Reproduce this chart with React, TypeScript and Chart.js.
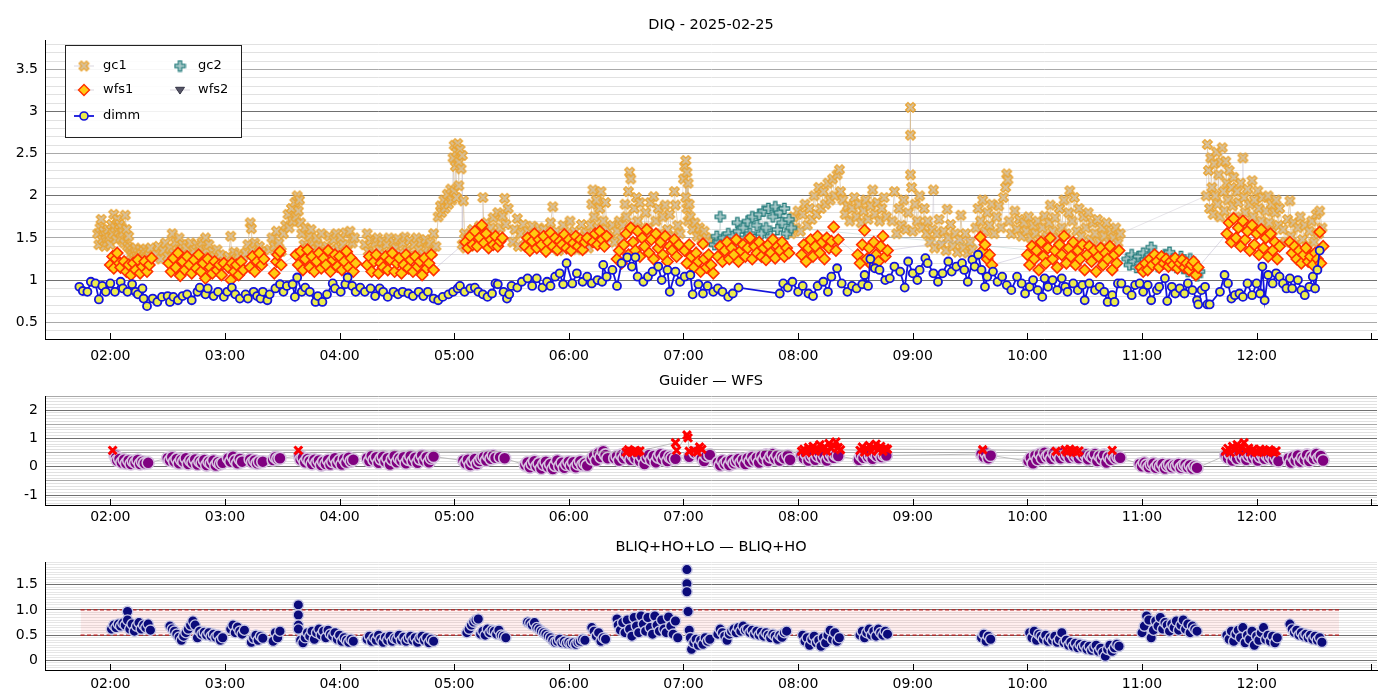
import React, { useEffect, useRef } from 'react';
import { Chart, registerables } from 'chart.js';

Chart.register(...registerables);

type P = [number, number];

// ---------- texts ----------
const titleDIQ = 'DIQ - 2025-02-25';
const titleGuider = 'Guider — WFS';
const titleBliq = 'BLIQ+HO+LO — BLIQ+HO';
const legendNames = ['gc1', 'wfs1', 'dimm', 'gc2', 'wfs2'];

// ---------- axes ----------
const hourTicks = [2, 3, 4, 5, 6, 7, 8, 9, 10, 11, 12, 13];
const xMin = 1.43;
const xMax = 13.05;

// ---------- bottom reference band ----------
const bandLow = 0.5;
const bandHigh = 1.0;
const bandStart = 1.74;
const bandEnd = 12.72;

// ---------- DIQ panel (time in hours UT, value in arcsec) ----------
const gc1: P[] = [
  [1.89,1.55],[1.90,1.42],[1.91,1.62],[1.92,1.72],[1.93,1.48],[1.94,1.58],[1.95,1.40],[1.96,1.53],[1.97,1.45],[1.98,1.60],[1.99,1.50],[2.00,1.42],[2.01,1.66],[2.02,1.55],[2.03,1.78],[2.04,1.62],[2.05,1.48],[2.06,1.72],[2.07,1.58],[2.08,1.66],[2.09,1.50],[2.10,1.62],[2.11,1.56],[2.12,1.44],[2.13,1.77],[2.14,1.60],[2.15,1.40],[2.16,1.52],
  [2.17,1.38],[2.18,1.30],[2.19,1.35],[2.20,1.27],[2.21,1.33],[2.22,1.38],[2.23,1.28],[2.24,1.32],[2.25,1.26],[2.26,1.36],[2.27,1.30],[2.28,1.24],[2.29,1.34],[2.30,1.29],[2.31,1.37],[2.32,1.27],[2.33,1.33],[2.34,1.29],[2.35,1.38],
  [2.40,1.30],[2.42,1.40],[2.44,1.25],[2.46,1.35],[2.48,1.44],[2.50,1.28],[2.52,1.38],[2.54,1.55],[2.55,1.32],[2.57,1.45],[2.58,1.26],[2.60,1.50],[2.61,1.36],[2.63,1.42],[2.64,1.24],[2.66,1.38],[2.68,1.30],[2.70,1.44],[2.71,1.22],[2.73,1.35],[2.75,1.42],[2.76,1.27],[2.78,1.38],[2.80,1.45],[2.81,1.30],[2.83,1.50],[2.84,1.36],[2.86,1.42],[2.87,1.24],[2.89,1.34],[2.91,1.28],[2.93,1.36],[2.94,1.22],[2.96,1.30],[2.97,1.20],
  [3.03,1.28],[3.05,1.52],[3.06,1.22],[3.08,1.33],[3.10,1.25],[3.12,1.30],[3.14,1.20],[3.16,1.28],
  [3.18,1.32],[3.20,1.42],[3.22,1.68],[3.23,1.61],[3.24,1.36],[3.26,1.44],[3.28,1.30],[3.30,1.40],[3.32,1.34],
  [3.39,1.36],[3.41,1.50],[3.43,1.40],[3.45,1.58],[3.47,1.44],[3.49,1.34],[3.51,1.55],
  [3.53,1.65],[3.55,1.78],[3.56,1.62],[3.58,1.85],[3.59,1.70],[3.61,1.92],[3.62,1.75],[3.63,2.00],[3.64,1.82],[3.65,1.95],[3.66,1.68],
  [3.67,1.55],[3.69,1.42],[3.70,1.62],[3.72,1.38],[3.74,1.52],[3.75,1.60],[3.77,1.45],[3.79,1.36],[3.80,1.50],[3.82,1.40],[3.84,1.55],[3.85,1.34],
  [3.89,1.40],[3.91,1.52],[3.93,1.36],[3.95,1.48],[3.97,1.55],[3.99,1.38],[4.01,1.50],[4.03,1.42],[4.05,1.56],[4.07,1.36],[4.09,1.58],[4.11,1.44],[4.13,1.50],
  [4.22,1.42],[4.24,1.55],[4.25,1.34],[4.27,1.47],[4.29,1.31],[4.31,1.44],[4.33,1.50],[4.35,1.36],[4.37,1.46],[4.39,1.30],[4.41,1.42],[4.43,1.50],[4.45,1.33],[4.47,1.45],[4.49,1.38],[4.51,1.49],[4.53,1.32],[4.55,1.44],[4.57,1.51],[4.59,1.35],[4.61,1.47],[4.63,1.30],[4.65,1.42],[4.67,1.50],[4.69,1.36],[4.71,1.45],[4.73,1.31],[4.75,1.48],[4.77,1.38],[4.79,1.44],[4.81,1.33],[4.82,1.55],[4.84,1.40],
  [4.86,1.75],[4.88,1.88],[4.89,1.80],[4.91,1.95],[4.92,1.85],[4.94,2.02],[4.95,1.90],[4.97,2.08],[4.98,1.95],[5.00,2.05],[5.02,1.98],[5.04,2.12],
  [4.99,2.45],[5.00,2.60],[5.01,2.35],[5.02,2.52],[5.03,2.62],[5.04,2.40],[5.05,2.55],[5.06,2.32],[5.07,2.48],[5.08,1.94],
  [5.07,1.42],[5.09,1.55],[5.10,1.38],[5.12,1.50],[5.14,1.44],[5.16,1.60],[5.18,1.40],[5.20,1.55],[5.22,1.64],[5.24,1.46],[5.25,1.98],[5.26,1.58],[5.28,1.68],[5.30,1.50],[5.32,1.62],[5.34,1.74],[5.36,1.55],[5.38,1.80],[5.40,1.62],[5.42,1.76],[5.44,1.97],[5.45,1.66],[5.47,1.85],
  [5.51,1.45],[5.53,1.60],[5.55,1.73],[5.56,1.40],[5.58,1.55],[5.60,1.66],[5.62,1.42],[5.64,1.58],[5.66,1.48],[5.68,1.64],[5.70,1.40],[5.72,1.55],[5.74,1.62],
  [5.76,1.45],[5.78,1.60],[5.80,1.38],[5.82,1.52],[5.84,1.68],[5.86,1.87],[5.87,1.42],[5.89,1.58],[5.91,1.35],[5.93,1.50],[5.95,1.65],[5.97,1.40],[5.99,1.55],[6.01,1.70],[6.03,1.44],[6.05,1.58],[6.07,1.36],[6.09,1.52],[6.11,1.66],[6.13,1.42],[6.15,1.56],[6.17,1.38],
  [6.19,1.65],[6.20,1.90],[6.21,2.07],[6.22,1.75],[6.24,1.95],[6.25,1.62],[6.27,1.85],[6.28,2.05],[6.30,1.70],[6.32,1.92],[6.33,1.60],
  [6.36,1.50],[6.38,1.65],[6.40,1.45],[6.42,1.58],[6.44,1.70],[6.46,1.48],
  [6.47,1.65],[6.49,1.90],[6.50,1.75],[6.52,2.05],[6.53,2.28],[6.54,2.20],[6.55,1.62],[6.57,1.85],[6.59,1.98],[6.60,1.70],[6.62,1.92],[6.64,1.60],
  [6.65,1.55],[6.67,1.80],[6.69,1.62],[6.71,1.92],[6.73,1.52],[6.74,1.99],[6.76,1.70],[6.78,1.85],[6.80,1.55],[6.82,1.75],[6.84,1.89],[6.86,1.60],[6.88,1.78],[6.90,1.52],[6.92,2.05],[6.93,1.89],[6.95,1.65],[6.97,1.55],
  [7.00,2.20],[7.01,2.35],[7.02,2.42],[7.03,2.28],[7.04,2.15],[7.02,1.98],[7.03,1.85],[7.04,1.70],[7.05,1.90],
  [7.06,1.75],[7.08,1.60],[7.10,1.68],[7.12,1.52],[7.14,1.62],[7.16,1.48],[7.18,1.58],[7.20,1.50],[7.22,1.45],
  [7.94,1.55],[7.96,1.75],[7.98,1.62],[8.00,1.82],[8.02,1.58],[8.04,1.78],[8.06,1.90],[8.08,1.65],[8.10,1.85],[8.12,1.72],[8.14,2.00],[8.16,1.78],[8.18,2.10],[8.20,1.85],[8.22,2.05],[8.24,1.90],[8.26,2.15],[8.28,1.95],[8.30,2.20],[8.32,2.00],[8.34,2.25],[8.36,2.31],[8.37,2.05],
  [8.39,1.95],[8.41,1.78],[8.43,1.88],[8.45,1.70],[8.47,1.85],[8.49,1.98],[8.51,1.75],[8.53,1.90],[8.55,1.68],[8.57,1.82],[8.59,1.95],[8.61,1.72],[8.63,1.88],[8.65,2.07],[8.67,1.78],[8.69,1.92],[8.71,1.70],[8.73,1.85],[8.75,1.98],[8.77,1.75],
  [8.82,1.70],[8.84,2.05],[8.86,1.55],[8.88,1.85],[8.90,1.65],[8.92,1.95],[8.94,1.60],[8.96,1.80],[8.98,3.05],[8.98,2.72],[8.98,2.25],[8.99,2.10],[9.00,1.58],[9.02,1.90],[9.04,1.70],[9.06,2.00],[9.08,1.62],[9.10,1.85],[9.12,1.55],
  [9.13,1.70],[9.15,1.45],[9.17,1.60],[9.18,2.07],[9.19,1.38],[9.21,1.55],[9.23,1.72],[9.25,1.42],[9.27,1.58],[9.29,1.35],[9.30,1.84],[9.31,1.50],[9.33,1.66],[9.35,1.40],[9.37,1.55],[9.39,1.33],[9.41,1.48],[9.42,1.77],[9.44,1.38],[9.46,1.55],[9.48,1.32],[9.50,1.45],[9.52,1.36],
  [9.55,1.62],[9.57,1.85],[9.59,1.70],[9.61,1.95],[9.63,1.58],[9.65,1.80],[9.67,1.65],[9.69,1.90],[9.71,1.55],[9.73,1.75],[9.75,1.88],[9.77,1.62],[9.79,1.98],[9.81,2.10],[9.82,2.26],[9.83,2.19],[9.84,1.70],[9.86,1.55],
  [9.89,1.82],[9.91,1.60],[9.93,1.72],[9.95,1.52],[9.97,1.68],[9.99,1.58],[10.01,1.75],[10.03,1.50],[10.05,1.65],[10.07,1.55],[10.09,1.70],[10.11,1.48],[10.13,1.62],[10.15,1.76],[10.17,1.52],[10.19,1.68],[10.20,1.89],[10.22,1.58],[10.24,1.74],[10.26,1.50],[10.28,1.85],[10.30,1.62],[10.32,1.95],[10.34,1.55],[10.36,1.80],[10.37,2.06],[10.39,1.70],[10.41,1.98],[10.43,1.58],[10.45,1.85],[10.47,1.52],[10.49,1.75],[10.51,1.62],[10.53,1.80],[10.55,1.48],[10.57,1.68],[10.59,1.55],[10.61,1.72],[10.63,1.45],[10.65,1.62],[10.67,1.52],[10.69,1.68],[10.71,1.45],[10.73,1.58],[10.75,1.50],[10.77,1.62],[10.79,1.44],[10.81,1.55],
  [11.56,2.00],[11.57,2.61],[11.58,2.30],[11.59,1.85],[11.60,2.45],[11.61,2.10],[11.62,1.78],[11.63,2.38],[11.64,2.00],[11.65,2.52],[11.66,1.90],[11.67,2.25],[11.68,1.75],[11.69,2.40],[11.70,2.57],[11.71,2.05],[11.72,1.82],[11.73,2.41],[11.74,2.15],[11.75,1.95],[11.76,2.30],[11.77,1.72],[11.78,2.10],[11.79,1.88],[11.80,2.22],[11.82,1.75],[11.83,2.05],[11.84,1.92],[11.86,2.15],[11.87,1.70],[11.88,2.45],[11.89,1.98],[11.90,1.80],[11.92,2.08],[11.93,1.65],[11.94,1.90],[11.96,2.18],[11.97,1.75],[11.98,1.95],[12.00,1.62],[12.01,2.06],[12.02,1.85],[12.04,1.70],[12.05,1.98],[12.07,1.60],[12.08,1.82],[12.10,2.00],[12.11,1.68],[12.13,1.90],[12.14,1.58],[12.16,1.80],[12.17,1.95],[12.19,1.65],[12.20,1.85],
  [12.23,1.60],[12.25,1.45],[12.27,1.72],[12.29,1.94],[12.30,1.52],[12.32,1.68],[12.34,1.42],[12.36,1.62],[12.38,1.75],[12.40,1.48],[12.42,1.65],[12.44,1.40],[12.46,1.58],[12.48,1.70],[12.50,1.45],[12.52,1.78],[12.54,1.55],[12.55,1.82],[12.57,1.62],
];

const gc2: P[] = [
  [7.27,1.42],[7.29,1.52],[7.31,1.45],[7.32,1.75],[7.33,1.40],[7.35,1.50],[7.37,1.44],[7.39,1.55],[7.41,1.42],[7.43,1.52],[7.45,1.46],[7.47,1.68],[7.48,1.58],[7.50,1.45],[7.52,1.62],[7.54,1.50],[7.56,1.70],[7.58,1.55],[7.60,1.75],[7.62,1.48],[7.64,1.65],[7.66,1.78],[7.68,1.55],[7.70,1.82],[7.72,1.62],[7.74,1.85],[7.76,1.52],[7.78,1.75],[7.80,1.87],[7.82,1.60],[7.84,1.80],[7.86,1.68],[7.88,1.85],[7.90,1.55],[7.92,1.72],[7.94,1.62],
  [10.87,1.25],[10.89,1.18],[10.91,1.30],[10.93,1.22],[10.95,1.15],[10.97,1.28],[10.99,1.20],[11.01,1.32],[11.03,1.24],[11.05,1.18],[11.07,1.30],[11.08,1.39],[11.10,1.22],[11.12,1.28],[11.14,1.16],[11.16,1.26],[11.18,1.20],[11.20,1.30],[11.22,1.24],[11.24,1.33],[11.26,1.18],[11.28,1.25],[11.30,1.15],[11.32,1.22],[11.34,1.28],[11.36,1.14],[11.38,1.20],[11.40,1.10],[11.42,1.25],[11.44,1.12],[11.46,1.18],[11.48,1.05],[11.50,1.10],
];

const wfs1: P[] = [
  [2.00,1.18],[2.02,1.28],[2.03,1.14],[2.05,1.25],[2.06,1.32],[2.08,1.20],[2.09,1.15],
  [2.12,1.22],[2.14,1.10],[2.16,1.18],[2.18,1.06],[2.20,1.20],[2.22,1.12],[2.24,1.24],[2.26,1.08],[2.28,1.16],[2.30,1.22],[2.32,1.10],[2.34,1.18],[2.36,1.26],
  [2.51,1.20],[2.53,1.10],[2.55,1.26],[2.57,1.15],[2.59,1.32],[2.61,1.05],[2.63,1.22],[2.65,1.12],[2.67,1.28],[2.69,1.18],[2.71,1.08],[2.73,1.24],[2.75,1.14],[2.77,1.30],[2.79,1.10],[2.81,1.20],[2.83,1.02],[2.85,1.25],[2.87,1.15],[2.89,1.08],[2.91,1.22],[2.93,1.12],[2.95,1.18],[2.97,1.06],[2.99,1.20],
  [3.03,1.15],[3.05,1.00],[3.06,1.20],[3.08,1.10],[3.10,1.18],[3.12,1.06],[3.14,1.22],[3.16,1.12],
  [3.22,1.15],[3.24,1.28],[3.26,1.10],[3.28,1.22],[3.30,1.32],[3.32,1.18],[3.34,1.25],
  [3.43,1.08],[3.45,1.22],[3.46,1.30],[3.48,1.34],[3.49,1.18],
  [3.62,1.30],[3.64,1.18],[3.66,1.34],[3.68,1.12],[3.70,1.25],[3.72,1.36],[3.74,1.15],[3.76,1.28],[3.78,1.10],[3.80,1.22],[3.82,1.32],[3.84,1.14],[3.86,1.26],[3.88,1.18],[3.90,1.35],[3.92,1.10],[3.94,1.24],[3.96,1.30],[3.98,1.16],[4.00,1.28],[4.02,1.12],[4.04,1.22],[4.06,1.34],[4.08,1.15],[4.10,1.26],[4.12,1.10],[4.14,1.20],
  [4.24,1.18],[4.26,1.28],[4.28,1.10],[4.30,1.22],[4.32,1.30],[4.34,1.08],[4.36,1.20],[4.38,1.15],[4.40,1.28],[4.42,1.12],[4.44,1.24],[4.46,1.32],[4.48,1.10],[4.50,1.20],[4.52,1.26],[4.54,1.08],[4.56,1.18],[4.58,1.30],[4.60,1.14],[4.62,1.24],[4.64,1.10],[4.66,1.28],[4.68,1.16],[4.70,1.22],[4.72,1.06],[4.74,1.26],[4.76,1.14],[4.78,1.20],[4.80,1.30],[4.82,1.12],
  [5.10,1.45],[5.12,1.38],[5.14,1.52],[5.16,1.42],[5.18,1.58],[5.20,1.40],[5.22,1.50],[5.24,1.65],[5.26,1.44],[5.28,1.55],[5.30,1.38],[5.32,1.48],[5.34,1.42],[5.36,1.52],[5.38,1.40],[5.40,1.46],[5.42,1.50],
  [5.62,1.40],[5.64,1.50],[5.66,1.35],[5.68,1.46],[5.70,1.55],[5.72,1.38],[5.74,1.48],[5.76,1.42],[5.78,1.52],[5.80,1.34],[5.82,1.45],[5.84,1.56],[5.86,1.40],[5.88,1.50],[5.90,1.36],[5.92,1.46],[5.94,1.42],[5.96,1.54],[5.98,1.38],[6.00,1.48],[6.02,1.35],[6.04,1.44],[6.06,1.52],[6.08,1.40],[6.10,1.48],[6.12,1.36],[6.14,1.45],[6.16,1.50],
  [6.21,1.45],[6.23,1.55],[6.25,1.42],[6.27,1.58],[6.29,1.48],[6.31,1.40],[6.33,1.52],
  [6.42,1.25],[6.44,1.35],[6.46,1.20],[6.48,1.42],[6.50,1.55],[6.52,1.30],[6.54,1.62],[6.56,1.45],[6.58,1.35],[6.60,1.58],[6.62,1.28],[6.64,1.50],[6.66,1.40],[6.68,1.60],[6.70,1.32],[6.72,1.48],[6.74,1.25],[6.76,1.55],[6.78,1.38],[6.80,1.45],[6.82,1.30],[6.84,1.52],[6.86,1.22],[6.88,1.40],[6.90,1.35],[6.92,1.48],[6.94,1.28],[6.96,1.42],
  [7.01,1.35],[7.03,1.20],[7.05,1.42],[7.07,1.28],[7.09,1.15],[7.11,1.32],[7.13,1.22],[7.15,1.10],[7.17,1.43],[7.18,1.25],[7.20,1.15],[7.22,1.30],[7.24,1.18],[7.26,1.08],
  [7.30,1.28],[7.32,1.40],[7.34,1.22],[7.36,1.35],[7.38,1.45],[7.40,1.25],[7.42,1.38],[7.44,1.30],[7.46,1.48],[7.48,1.22],[7.50,1.35],[7.52,1.42],[7.54,1.28],[7.56,1.38],[7.58,1.50],[7.60,1.25],[7.62,1.40],[7.64,1.32],[7.66,1.45],[7.68,1.28],[7.70,1.38],[7.72,1.24],[7.74,1.42],[7.76,1.32],[7.78,1.48],[7.80,1.26],[7.82,1.40],[7.84,1.35],[7.86,1.45],[7.88,1.28],[7.90,1.38],[7.92,1.32],
  [8.03,1.30],[8.05,1.42],[8.07,1.22],[8.09,1.38],[8.11,1.48],[8.13,1.28],[8.15,1.40],[8.17,1.52],[8.19,1.32],[8.21,1.45],[8.23,1.25],[8.25,1.50],[8.27,1.38],[8.29,1.46],[8.31,1.63],[8.33,1.35],[8.35,1.48],
  [8.52,1.30],[8.54,1.20],[8.56,1.42],[8.58,1.59],[8.60,1.25],[8.62,1.38],[8.64,1.18],[8.66,1.45],[8.68,1.30],[8.70,1.22],[8.72,1.40],[8.74,1.52],[8.76,1.28],[8.78,1.35],
  [9.59,1.51],[9.61,1.35],[9.63,1.42],[9.65,1.25],[9.67,1.30],[9.69,1.18],
  [10.00,1.30],[10.02,1.18],[10.04,1.40],[10.06,1.25],[10.08,1.35],[10.10,1.12],[10.12,1.45],[10.14,1.28],[10.16,1.20],[10.18,1.38],[10.20,1.50],[10.22,1.25],[10.24,1.35],[10.26,1.15],[10.28,1.42],[10.30,1.30],[10.32,1.52],[10.34,1.20],[10.36,1.38],[10.38,1.28],[10.40,1.45],[10.42,1.18],[10.44,1.35],[10.46,1.25],[10.48,1.42],[10.50,1.12],[10.52,1.30],[10.54,1.40],[10.56,1.22],[10.58,1.35],[10.60,1.10],[10.62,1.28],[10.64,1.38],[10.66,1.18],[10.68,1.32],[10.70,1.25],[10.72,1.40],[10.74,1.12],[10.76,1.30],[10.78,1.20],[10.80,1.35],
  [10.99,1.15],[11.01,1.10],[11.03,1.20],[11.05,1.12],[11.07,1.25],[11.09,1.18],[11.11,1.30],[11.13,1.22],[11.15,1.15],[11.17,1.28],[11.19,1.20],[11.21,1.25],[11.23,1.16],[11.25,1.22],[11.27,1.18],[11.29,1.26],[11.31,1.14],[11.33,1.20],[11.35,1.24],[11.37,1.15],[11.39,1.20],[11.41,1.12],[11.43,1.18],[11.45,1.22],[11.47,1.06],[11.49,1.15],
  [11.74,1.55],[11.76,1.68],[11.78,1.45],[11.80,1.73],[11.82,1.50],[11.84,1.62],[11.86,1.40],[11.88,1.70],[11.90,1.48],[11.92,1.58],[11.94,1.35],[11.96,1.65],[11.98,1.42],[12.00,1.55],[12.02,1.30],[12.04,1.60],[12.06,1.38],[12.08,1.50],[12.10,1.28],[12.12,1.55],[12.14,1.35],[12.16,1.45],[12.18,1.25],[12.20,1.40],
  [12.29,1.45],[12.31,1.32],[12.33,1.40],[12.35,1.25],[12.37,1.35],[12.39,1.20],[12.41,1.30],[12.43,1.38],[12.45,1.22],[12.47,1.28],[12.49,1.18],[12.51,1.32],[12.53,1.25],[12.55,1.57],[12.56,1.20],[12.58,1.40],
];

const wfs2: P[] = [];

const dimm: P[] = [
  [1.73,0.92],[1.76,0.87],[1.80,0.86],[1.83,0.98],[1.87,0.96],[1.90,0.77],[1.93,0.93],[1.96,0.86],[2.00,0.96],[2.04,0.86],[2.09,0.98],[2.11,0.90],[2.15,0.86],[2.19,0.95],[2.22,0.86],[2.24,0.83],[2.28,0.90],[2.29,0.78],[2.32,0.69],[2.37,0.78],[2.41,0.74],[2.45,0.80],[2.50,0.81],[2.52,0.74],[2.55,0.80],[2.59,0.76],[2.63,0.81],[2.67,0.83],[2.71,0.76],[2.76,0.86],[2.78,0.91],[2.83,0.83],[2.85,0.90],[2.90,0.81],[2.94,0.86],[2.99,0.80],
  [3.02,0.86],[3.06,0.91],[3.09,0.83],[3.13,0.78],[3.18,0.83],[3.20,0.78],[3.25,0.86],[3.28,0.81],[3.31,0.78],[3.33,0.86],[3.37,0.76],[3.39,0.83],[3.44,0.90],[3.48,0.95],[3.51,0.86],[3.54,0.93],[3.59,0.95],[3.61,0.80],[3.63,1.03],[3.67,0.86],[3.70,0.91],[3.74,0.86],[3.79,0.74],[3.81,0.81],[3.85,0.74],[3.89,0.83],[3.94,0.96],[3.96,0.90],
  [4.01,0.86],[4.05,0.95],[4.07,1.03],[4.11,0.93],[4.14,0.86],[4.18,0.91],[4.22,0.86],[4.27,0.90],[4.31,0.81],[4.35,0.90],[4.38,0.86],[4.42,0.80],[4.47,0.86],[4.51,0.83],[4.55,0.86],[4.60,0.84],[4.64,0.81],[4.69,0.86],[4.73,0.81],[4.77,0.86],[4.82,0.78],[4.86,0.76],[4.90,0.80],[4.95,0.83],[4.99,0.86],
  [5.03,0.90],[5.05,0.93],[5.09,0.86],[5.14,0.90],[5.18,0.91],[5.21,0.86],[5.25,0.83],[5.29,0.80],[5.33,0.84],[5.36,0.96],[5.38,0.95],[5.43,0.86],[5.46,0.78],[5.48,0.83],[5.50,0.93],[5.55,0.91],[5.59,0.98],[5.64,1.02],[5.68,0.93],[5.72,1.02],[5.77,0.91],[5.81,0.98],[5.84,0.93],[5.88,1.04],[5.92,1.08],[5.95,0.95],[5.98,1.20],
  [6.03,0.96],[6.07,1.08],[6.12,0.98],[6.16,1.04],[6.20,0.96],[6.25,1.00],[6.29,0.98],[6.30,1.18],[6.33,1.04],[6.38,1.12],[6.42,0.93],[6.46,1.20],[6.51,1.27],[6.55,1.16],[6.58,1.27],[6.60,1.04],[6.65,0.98],[6.69,1.04],[6.73,1.10],[6.78,1.16],[6.81,1.00],[6.86,1.12],[6.88,0.86],[6.93,1.10],[6.97,0.98],
  [7.01,1.04],[7.06,1.06],[7.08,0.83],[7.13,0.95],[7.17,0.84],[7.21,0.93],[7.26,0.86],[7.30,0.90],[7.34,0.86],[7.39,0.80],[7.43,0.84],[7.48,0.91],
  [7.84,0.84],[7.87,0.96],[7.91,0.91],[7.95,0.98],[8.00,0.86],[8.04,0.93],[8.09,0.84],[8.13,0.81],[8.17,0.93],[8.22,0.98],[8.26,0.86],[8.29,1.04],[8.34,1.14],[8.38,0.96],[8.43,0.86],[8.47,0.93],[8.51,0.90],[8.56,0.95],[8.58,1.06],[8.61,0.93],[8.63,1.25],[8.67,1.14],[8.71,1.12],[8.76,1.00],[8.80,1.02],[8.84,1.16],[8.89,1.10],[8.93,0.91],[8.96,1.22],
  [9.00,1.08],[9.04,1.00],[9.06,1.12],[9.11,1.26],[9.13,1.20],[9.18,1.08],[9.22,0.98],[9.26,1.08],[9.31,1.22],[9.34,1.10],[9.38,1.16],[9.43,1.20],[9.45,1.12],[9.48,0.98],[9.52,1.24],[9.54,1.16],[9.57,1.30],[9.60,1.12],[9.63,0.92],[9.65,1.04],[9.70,1.10],[9.74,0.98],[9.78,1.04],[9.82,0.94],[9.86,0.88],[9.91,1.04],[9.95,0.96],[9.98,0.84],
  [10.02,0.92],[10.05,1.00],[10.09,0.88],[10.13,0.80],[10.15,1.02],[10.18,0.92],[10.22,1.00],[10.26,0.88],[10.30,1.02],[10.33,0.92],[10.35,0.86],[10.40,0.96],[10.44,0.88],[10.48,0.94],[10.50,0.76],[10.54,0.96],[10.59,0.88],[10.63,0.92],[10.67,0.86],[10.70,0.74],[10.74,0.82],[10.76,0.74],[10.79,0.96],[10.82,0.96],[10.87,0.88],[10.91,0.82],[10.94,0.94],[10.98,0.96],
  [11.01,0.86],[11.05,0.94],[11.08,0.76],[11.13,0.88],[11.15,0.92],[11.20,1.02],[11.22,0.75],[11.26,0.92],[11.29,0.84],[11.33,0.90],[11.37,0.84],[11.40,0.96],[11.44,0.88],[11.48,0.76],[11.49,0.71],[11.52,0.88],[11.55,0.92],[11.57,0.71],[11.59,0.71],[11.68,0.86],[11.72,1.06],[11.75,0.96],[11.78,0.78],[11.81,0.82],[11.85,0.84],[11.88,0.80],[11.92,0.96],[11.96,0.82],
  [12.00,0.96],[12.03,0.84],[12.05,1.16],[12.07,0.76],[12.10,1.06],[12.14,0.96],[12.17,1.08],[12.20,1.04],[12.23,0.96],[12.26,0.90],[12.29,1.02],[12.31,0.90],[12.36,1.00],[12.39,0.88],[12.42,0.82],[12.46,0.92],[12.49,1.04],[12.51,0.90],[12.53,1.12],[12.55,1.35],
];

// ---------- Guider — WFS panel ----------
const guider: P[] = [
  [2.04,0.42],[2.05,0.32],[2.06,0.22],[2.08,0.28],[2.10,0.15],[2.12,0.25],[2.14,0.12],[2.16,0.22],[2.18,0.10],[2.20,0.20],[2.22,0.14],[2.24,0.24],[2.26,0.10],[2.28,0.18],[2.30,0.12],[2.33,0.14],
  [2.50,0.30],[2.52,0.22],[2.54,0.34],[2.56,0.18],[2.58,0.28],[2.60,0.12],[2.62,0.25],[2.64,0.18],[2.66,0.30],[2.68,0.10],[2.70,0.22],[2.72,0.15],[2.74,0.26],[2.76,0.08],[2.78,0.20],[2.80,0.14],[2.82,0.24],[2.84,0.06],[2.86,0.18],[2.88,0.12],[2.90,0.22],[2.92,0.04],[2.94,0.16],[2.96,0.10],[2.98,0.14],
  [3.03,0.30],[3.05,0.18],[3.07,0.36],[3.09,0.22],[3.11,0.12],[3.13,0.28],[3.15,0.18],
  [3.22,0.26],[3.24,0.16],[3.26,0.22],[3.28,0.12],[3.30,0.18],[3.33,0.18],
  [3.42,0.24],[3.44,0.34],[3.46,0.28],[3.48,0.30],
  [3.65,0.38],[3.66,0.25],[3.68,0.32],[3.70,0.16],[3.72,0.28],[3.74,0.20],[3.76,0.10],[3.78,0.25],[3.80,0.14],[3.82,0.22],[3.84,0.06],[3.86,0.18],[3.88,0.10],[3.90,0.24],[3.92,0.08],[3.94,0.18],[3.96,0.30],[3.98,0.12],[4.00,0.22],[4.02,0.08],[4.04,0.28],[4.06,0.15],[4.08,0.32],[4.10,0.20],[4.12,0.25],
  [4.24,0.30],[4.26,0.20],[4.28,0.38],[4.30,0.24],[4.32,0.34],[4.34,0.14],[4.36,0.28],[4.38,0.36],[4.40,0.18],[4.42,0.30],[4.44,0.08],[4.46,0.26],[4.48,0.38],[4.50,0.16],[4.52,0.30],[4.54,0.22],[4.56,0.34],[4.58,0.12],[4.60,0.26],[4.62,0.38],[4.64,0.20],[4.66,0.32],[4.68,0.14],[4.70,0.28],[4.72,0.40],[4.74,0.22],[4.76,0.34],[4.78,0.16],[4.80,0.30],[4.82,0.36],
  [5.08,0.22],[5.10,0.12],[5.12,0.25],[5.14,0.06],[5.16,0.18],[5.18,0.28],[5.20,0.10],[5.22,0.20],[5.24,0.30],[5.26,0.35],[5.28,0.22],[5.30,0.38],[5.32,0.28],[5.34,0.40],[5.36,0.32],[5.40,0.34],[5.44,0.30],
  [5.62,0.06],[5.64,0.15],[5.66,-0.02],[5.68,0.10],[5.70,0.20],[5.72,0.02],[5.74,0.12],[5.76,-0.06],[5.78,0.08],[5.80,0.18],[5.82,0.00],[5.84,0.10],[5.86,-0.08],[5.88,0.05],[5.90,0.22],[5.92,0.02],[5.94,0.14],[5.96,-0.04],[5.98,0.08],[6.00,0.18],[6.02,0.04],[6.04,0.16],[6.06,-0.02],[6.08,0.10],[6.10,0.20],[6.12,0.06],[6.14,0.12],[6.16,0.04],
  [6.20,0.28],[6.22,0.40],[6.24,0.22],[6.26,0.48],[6.28,0.34],[6.30,0.55],[6.32,0.42],[6.34,0.30],
  [6.40,0.30],[6.42,0.38],[6.44,0.22],[6.46,0.42],[6.48,0.30],[6.50,0.45],[6.52,0.35],[6.54,0.25],[6.56,0.40],[6.58,0.30],[6.60,0.46],[6.62,0.20],[6.64,0.36],[6.66,0.10],[6.68,0.32],[6.70,0.42],[6.72,0.24],[6.74,0.38],[6.76,0.16],[6.78,0.34],[6.80,0.44],[6.82,0.26],[6.84,0.40],[6.86,0.20],[6.88,0.36],[6.90,0.30],[6.93,0.28],
  [7.05,0.35],[7.10,0.50],[7.14,0.45],[7.16,0.30],[7.18,0.20],[7.20,0.38],[7.23,0.42],
  [7.30,0.15],[7.32,0.05],[7.34,0.22],[7.36,0.10],[7.38,0.18],[7.40,0.06],[7.42,0.24],[7.44,0.12],[7.46,0.20],[7.48,0.28],[7.50,0.14],[7.52,0.25],[7.54,0.10],[7.56,0.30],[7.58,0.18],[7.60,0.35],[7.62,0.22],[7.64,0.32],[7.66,0.15],[7.68,0.38],[7.70,0.26],[7.72,0.42],[7.74,0.20],[7.76,0.35],[7.78,0.45],[7.80,0.28],[7.82,0.40],[7.84,0.22],[7.86,0.36],[7.88,0.30],[7.91,0.40],[7.93,0.25],
  [8.03,0.40],[8.05,0.30],[8.07,0.45],[8.09,0.22],[8.11,0.35],[8.13,0.42],[8.15,0.25],[8.17,0.38],[8.19,0.48],[8.21,0.30],[8.23,0.40],[8.25,0.22],[8.27,0.36],[8.29,0.45],[8.31,0.32],[8.33,0.42],[8.35,0.38],
  [8.53,0.25],[8.55,0.40],[8.57,0.32],[8.59,0.48],[8.61,0.35],[8.63,0.42],[8.65,0.28],[8.67,0.45],[8.69,0.38],[8.71,0.48],[8.73,0.34],[8.75,0.42],[8.77,0.40],
  [9.60,0.45],[9.62,0.35],[9.64,0.48],[9.66,0.30],[9.68,0.40],
  [10.01,0.20],[10.03,0.32],[10.05,0.12],[10.07,0.40],[10.09,0.25],[10.11,0.45],[10.13,0.30],[10.15,0.50],[10.17,0.35],[10.19,0.42],[10.21,0.28],[10.23,0.48],[10.25,0.36],[10.27,0.44],[10.29,0.30],[10.31,0.50],[10.33,0.38],[10.35,0.45],[10.37,0.32],[10.39,0.48],[10.41,0.36],[10.43,0.42],[10.45,0.30],[10.47,0.46],[10.49,0.38],[10.51,0.44],[10.53,0.26],[10.55,0.40],[10.57,0.34],[10.59,0.45],[10.61,0.20],[10.63,0.38],[10.65,0.28],[10.67,0.42],[10.69,0.15],[10.71,0.35],[10.73,0.25],[10.75,0.40],[10.77,0.30],[10.79,0.36],[10.81,0.32],
  [10.98,0.10],[11.00,0.02],[11.02,0.14],[11.04,0.06],[11.06,-0.02],[11.08,0.08],[11.10,0.12],[11.12,-0.04],[11.14,0.06],[11.16,0.00],[11.18,0.10],[11.20,-0.06],[11.22,0.04],[11.24,0.08],[11.26,-0.02],[11.28,0.06],[11.30,0.02],[11.32,0.10],[11.34,-0.04],[11.36,0.04],[11.38,0.08],[11.40,-0.02],[11.42,0.06],[11.44,-0.06],[11.46,0.02],[11.48,-0.04],
  [11.73,0.40],[11.75,0.30],[11.77,0.45],[11.79,0.22],[11.81,0.38],[11.83,0.28],[11.85,0.48],[11.87,0.32],[11.89,0.42],[11.91,0.25],[11.93,0.38],[11.95,0.45],[11.97,0.30],[11.99,0.40],[12.01,0.22],[12.03,0.36],[12.05,0.44],[12.07,0.28],[12.09,0.40],[12.11,0.32],[12.13,0.38],[12.15,0.25],[12.17,0.35],[12.19,0.20],
  [12.28,0.30],[12.30,0.15],[12.32,0.35],[12.34,0.22],[12.36,0.40],[12.38,0.18],[12.40,0.32],[12.42,0.25],[12.44,0.42],[12.46,0.20],[12.48,0.36],[12.50,0.28],[12.52,0.45],[12.54,0.30],[12.56,0.38],[12.58,0.22],
];

const wfsDiff: P[] = [
  [2.02,0.58],[3.64,0.58],
  [6.50,0.52],[6.52,0.60],[6.54,0.55],[6.56,0.50],[6.58,0.58],[6.60,0.52],[6.62,0.56],
  [6.93,0.85],[6.94,0.58],[7.03,1.12],[7.04,1.02],[7.05,0.55],[7.09,0.58],[7.12,0.52],[7.14,0.70],[7.16,0.62],
  [8.03,0.55],[8.05,0.62],[8.07,0.50],[8.09,0.68],[8.11,0.58],[8.13,0.72],[8.15,0.55],[8.17,0.65],[8.19,0.78],[8.21,0.60],[8.23,0.70],[8.25,0.55],[8.27,0.82],[8.29,0.65],[8.31,0.75],[8.33,0.88],[8.35,0.68],[8.37,0.60],
  [8.54,0.58],[8.56,0.70],[8.58,0.52],[8.60,0.65],[8.62,0.75],[8.64,0.55],[8.66,0.68],[8.68,0.80],[8.70,0.60],[8.72,0.72],[8.74,0.55],[8.76,0.66],[8.78,0.62],
  [9.61,0.60],
  [10.25,0.55],[10.33,0.60],[10.35,0.52],[10.37,0.62],[10.39,0.55],[10.41,0.58],[10.43,0.50],[10.45,0.56],[10.74,0.58],
  [11.73,0.55],[11.75,0.65],[11.77,0.50],[11.79,0.72],[11.81,0.60],[11.83,0.78],[11.85,0.55],[11.87,0.68],[11.89,0.85],[11.91,0.58],[11.93,0.66],[11.95,0.52],[11.97,0.62],[11.99,0.55],[12.01,0.50],[12.03,0.62],[12.05,0.55],[12.07,0.58],[12.09,0.52],[12.11,0.60],[12.13,0.55],[12.15,0.50],[12.17,0.56],
];

// ---------- BLIQ+HO+LO — BLIQ+HO panel ----------
const bliq: P[] = [
  [2.01,0.62],[2.03,0.70],[2.05,0.65],[2.07,0.72],[2.09,0.68],[2.11,0.74],[2.13,0.70],[2.15,0.97],[2.15,0.80],[2.17,0.62],[2.19,0.72],[2.21,0.58],[2.23,0.68],[2.25,0.75],[2.27,0.62],[2.29,0.70],[2.31,0.65],[2.33,0.72],[2.35,0.60],
  [2.52,0.68],[2.54,0.62],[2.56,0.58],[2.58,0.52],[2.60,0.46],[2.62,0.40],[2.64,0.48],[2.66,0.55],[2.68,0.62],[2.70,0.70],[2.72,0.78],[2.74,0.70],[2.76,0.45],[2.78,0.58],[2.80,0.52],[2.82,0.56],[2.84,0.50],[2.86,0.55],[2.88,0.48],[2.90,0.52],[2.92,0.46],[2.94,0.50],[2.96,0.40],[2.98,0.45],
  [3.05,0.62],[3.07,0.70],[3.09,0.55],[3.11,0.66],[3.13,0.58],[3.15,0.52],[3.17,0.60],
  [3.23,0.36],[3.25,0.44],[3.27,0.50],[3.29,0.40],[3.31,0.48],[3.33,0.44],
  [3.42,0.38],[3.44,0.55],[3.46,0.45],[3.48,0.58],
  [3.64,1.10],[3.64,0.90],[3.64,0.70],[3.64,0.62],[3.66,0.40],[3.68,0.35],[3.70,0.45],[3.72,0.55],[3.74,0.48],[3.76,0.58],[3.78,0.42],[3.80,0.55],[3.82,0.62],[3.84,0.50],[3.86,0.58],[3.88,0.45],[3.90,0.60],[3.92,0.52],[3.94,0.48],[3.96,0.55],[3.98,0.42],[4.00,0.50],[4.02,0.38],[4.04,0.45],[4.06,0.40],[4.08,0.36],[4.10,0.42],[4.12,0.38],
  [4.24,0.42],[4.26,0.48],[4.28,0.38],[4.30,0.45],[4.32,0.40],[4.34,0.50],[4.36,0.42],[4.38,0.36],[4.40,0.46],[4.42,0.40],[4.44,0.48],[4.46,0.38],[4.48,0.44],[4.50,0.42],[4.52,0.50],[4.54,0.40],[4.56,0.46],[4.58,0.38],[4.60,0.44],[4.62,0.48],[4.64,0.40],[4.66,0.45],[4.68,0.36],[4.70,0.44],[4.72,0.48],[4.74,0.40],[4.76,0.45],[4.78,0.35],[4.80,0.42],[4.82,0.38],
  [5.11,0.55],[5.13,0.62],[5.15,0.70],[5.17,0.76],[5.19,0.80],[5.21,0.82],[5.23,0.52],[5.25,0.58],[5.27,0.50],[5.29,0.62],[5.31,0.55],[5.33,0.60],[5.35,0.58],[5.37,0.52],[5.39,0.60],[5.41,0.50],[5.43,0.48],[5.45,0.45],
  [5.64,0.76],[5.66,0.74],[5.68,0.70],[5.70,0.75],[5.72,0.65],[5.74,0.62],[5.76,0.58],[5.78,0.55],[5.80,0.52],[5.82,0.48],[5.84,0.45],[5.86,0.40],[5.88,0.36],[5.90,0.38],[5.92,0.42],[5.94,0.35],[5.96,0.38],[5.98,0.34],[6.00,0.36],[6.02,0.33],[6.04,0.35],[6.06,0.32],[6.08,0.36],[6.10,0.38],[6.12,0.42],[6.14,0.40],
  [6.20,0.65],[6.22,0.58],[6.24,0.48],[6.26,0.55],[6.28,0.38],[6.30,0.45],[6.32,0.42],
  [6.42,0.82],[6.43,0.70],[6.45,0.60],[6.47,0.75],[6.49,0.55],[6.51,0.80],[6.53,0.62],[6.55,0.48],[6.57,0.85],[6.59,0.68],[6.61,0.55],[6.63,0.88],[6.65,0.72],[6.67,0.58],[6.69,0.85],[6.71,0.65],[6.73,0.52],[6.75,0.88],[6.77,0.70],[6.79,0.58],[6.81,0.80],[6.83,0.62],[6.85,0.55],[6.87,0.86],[6.89,0.68],[6.91,0.52],[6.93,0.78],[6.95,0.45],
  [7.03,1.80],[7.03,1.52],[7.03,1.36],[7.04,0.97],[7.05,0.60],[7.06,0.45],[7.07,0.22],[7.09,0.35],[7.11,0.42],[7.13,0.30],[7.15,0.40],[7.17,0.32],[7.19,0.45],[7.21,0.38],[7.23,0.42],
  [7.30,0.52],[7.32,0.62],[7.34,0.55],[7.36,0.48],[7.38,0.40],[7.40,0.52],[7.42,0.58],[7.44,0.62],[7.46,0.55],[7.48,0.65],[7.50,0.58],[7.52,0.68],[7.54,0.60],[7.56,0.62],[7.58,0.55],[7.60,0.60],[7.62,0.52],[7.64,0.58],[7.66,0.50],[7.68,0.56],[7.70,0.48],[7.72,0.55],[7.74,0.50],[7.76,0.45],[7.78,0.52],[7.80,0.48],[7.82,0.42],[7.84,0.50],[7.86,0.46],[7.88,0.55],[7.90,0.58],
  [8.04,0.50],[8.06,0.38],[8.08,0.45],[8.10,0.30],[8.12,0.42],[8.14,0.48],[8.16,0.35],[8.18,0.40],[8.20,0.28],[8.22,0.45],[8.24,0.35],[8.26,0.50],[8.28,0.60],[8.30,0.42],[8.32,0.55],[8.34,0.38],[8.36,0.45],
  [8.54,0.50],[8.56,0.58],[8.58,0.45],[8.60,0.55],[8.62,0.62],[8.64,0.50],[8.66,0.58],[8.68,0.48],[8.70,0.62],[8.72,0.55],[8.74,0.50],[8.76,0.58],[8.78,0.52],
  [9.60,0.45],[9.62,0.52],[9.64,0.38],[9.66,0.48],[9.68,0.42],
  [10.02,0.55],[10.04,0.45],[10.06,0.58],[10.08,0.40],[10.10,0.52],[10.12,0.48],[10.14,0.42],[10.16,0.50],[10.18,0.38],[10.20,0.45],[10.22,0.40],[10.24,0.48],[10.26,0.36],[10.28,0.42],[10.30,0.55],[10.32,0.35],[10.34,0.40],[10.36,0.30],[10.38,0.36],[10.40,0.28],[10.42,0.34],[10.44,0.25],[10.46,0.32],[10.48,0.26],[10.50,0.30],[10.52,0.22],[10.54,0.28],[10.56,0.20],[10.58,0.25],[10.60,0.30],[10.62,0.18],[10.64,0.24],[10.66,0.16],[10.68,0.08],[10.70,0.22],[10.72,0.30],[10.74,0.18],[10.76,0.25],[10.78,0.32],[10.80,0.28],
  [11.00,0.55],[11.02,0.68],[11.04,0.88],[11.06,0.80],[11.08,0.45],[11.10,0.60],[11.12,0.78],[11.14,0.68],[11.16,0.85],[11.18,0.62],[11.20,0.75],[11.22,0.70],[11.24,0.58],[11.26,0.72],[11.28,0.65],[11.30,0.78],[11.32,0.60],[11.34,0.70],[11.36,0.80],[11.38,0.62],[11.40,0.72],[11.42,0.55],[11.44,0.68],[11.46,0.62],[11.48,0.58],
  [11.74,0.50],[11.76,0.42],[11.78,0.58],[11.80,0.38],[11.82,0.52],[11.84,0.60],[11.86,0.45],[11.88,0.65],[11.90,0.35],[11.92,0.50],[11.94,0.42],[11.96,0.58],[11.98,0.30],[12.00,0.48],[12.02,0.40],[12.04,0.55],[12.06,0.65],[12.08,0.42],[12.10,0.50],[12.12,0.38],[12.14,0.48],[12.16,0.35],[12.18,0.45],
  [12.29,0.72],[12.31,0.62],[12.33,0.55],[12.35,0.60],[12.37,0.50],[12.39,0.55],[12.41,0.48],[12.43,0.52],[12.45,0.45],[12.47,0.50],[12.49,0.42],[12.51,0.48],[12.53,0.40],[12.55,0.45],[12.57,0.36],
];

// ---------- helpers ----------
const FONT = '"DejaVu Sans", "Liberation Sans", sans-serif';
const toXY = (pts: P[]) => [...pts].sort((a, b) => a[0] - b[0]).map(([x, y]) => ({ x, y }));
const isMult = (v: number, s: number) => Math.abs(v / s - Math.round(v / s)) < 1e-6;
const range = (a: number, b: number, div: number) => {
  const out: number[] = [];
  for (let i = a; i <= b; i++) out.push(i / div);
  return out;
};

// filled "X" / "P" marker glyphs (matplotlib-like), drawn once into small canvases
function glyph(kind: 'X' | 'P', face: string, edge: string, size: number, lw: number): HTMLCanvasElement {
  const c = document.createElement('canvas');
  c.width = size; c.height = size;
  const g = c.getContext('2d') as CanvasRenderingContext2D;
  const h = size / 2;
  const a = h - 1.3;
  const t = a * 0.32;
  const pts: [number, number][] = [
    [-t, -a], [t, -a], [t, -t], [a, -t], [a, t], [t, t],
    [t, a], [-t, a], [-t, t], [-a, t], [-a, -t], [-t, -t],
  ];
  const ang = kind === 'X' ? Math.PI / 4 : 0;
  const ca = Math.cos(ang), sa = Math.sin(ang);
  g.beginPath();
  pts.forEach(([x, y], i) => {
    const px = h + x * ca - y * sa;
    const py = h + x * sa + y * ca;
    if (i === 0) g.moveTo(px, py); else g.lineTo(px, py);
  });
  g.closePath();
  g.fillStyle = face;
  g.fill();
  g.strokeStyle = edge;
  g.lineWidth = lw;
  g.lineJoin = 'miter';
  g.stroke();
  return c;
}

let glyphCache: { gc1: HTMLCanvasElement; gc2: HTMLCanvasElement } | null = null;
function glyphs() {
  if (!glyphCache) {
    glyphCache = {
      gc1: glyph('X', 'rgba(214,190,150,0.95)', 'rgba(233,163,48,1)', 13, 1.3),
      gc2: glyph('P', 'rgba(168,200,200,0.95)', 'rgba(36,124,124,1)', 13, 1.2),
    };
  }
  return glyphCache;
}

function marker(ctx: CanvasRenderingContext2D, style: string, x: number, y: number, r: number) {
  ctx.beginPath();
  if (style === 'diamond') {
    ctx.moveTo(x, y - r); ctx.lineTo(x + r, y); ctx.lineTo(x, y + r); ctx.lineTo(x - r, y); ctx.closePath();
    ctx.fill(); ctx.stroke();
  } else if (style === 'tri') {
    ctx.moveTo(x - r, y - r * 0.6); ctx.lineTo(x + r, y - r * 0.6); ctx.lineTo(x, y + r * 0.9); ctx.closePath();
    ctx.fill(); ctx.stroke();
  } else {
    ctx.arc(x, y, r, 0, Math.PI * 2);
    ctx.fill(); ctx.stroke();
  }
}

const titlePlugin = (text: string, y: number) => ({
  id: 'panelTitle',
  afterDraw(chart: any) {
    const { ctx, chartArea } = chart;
    ctx.save();
    ctx.font = `14.5px ${FONT}`;
    ctx.fillStyle = '#000';
    ctx.textAlign = 'center';
    ctx.textBaseline = 'middle';
    ctx.fillText(text, (chartArea.left + chartArea.right) / 2, y);
    ctx.restore();
  },
});

const innerTicks = {
  id: 'innerTicks',
  afterDraw(chart: any) {
    const { ctx, chartArea, scales } = chart;
    ctx.save();
    ctx.strokeStyle = '#000';
    ctx.lineWidth = 1;
    for (const h of hourTicks) {
      const px = Math.round(scales.x.getPixelForValue(h)) + 0.5;
      ctx.beginPath();
      ctx.moveTo(px, chartArea.bottom);
      ctx.lineTo(px, chartArea.bottom - 6);
      ctx.stroke();
    }
    ctx.restore();
  },
};

const legendPlugin = {
  id: 'boxLegend',
  afterDraw(chart: any) {
    const { ctx, chartArea } = chart;
    const G = glyphs();
    const L = chartArea.left + 20;
    const T = chartArea.top + 5;
    ctx.save();
    ctx.fillStyle = 'rgba(255,255,255,0.9)';
    ctx.fillRect(L + 0.5, T + 0.5, 176, 92);
    ctx.strokeStyle = '#222';
    ctx.lineWidth = 1;
    ctx.strokeRect(L + 0.5, T + 0.5, 176, 92);
    const rows = [T + 21, T + 45, T + 71];
    const c1 = L + 19;
    const c2 = L + 115;
    ctx.font = `13px ${FONT}`;
    ctx.textBaseline = 'middle';
    const faintLine = (cx: number, y: number) => {
      ctx.strokeStyle = 'rgba(190,185,200,0.7)';
      ctx.lineWidth = 0.8;
      ctx.beginPath(); ctx.moveTo(cx - 10, y); ctx.lineTo(cx + 10, y); ctx.stroke();
    };
    // gc1
    faintLine(c1, rows[0]);
    ctx.drawImage(G.gc1, c1 - G.gc1.width / 2, rows[0] - G.gc1.height / 2);
    // wfs1
    faintLine(c1, rows[1]);
    ctx.fillStyle = '#ffcc14'; ctx.strokeStyle = '#ff3000'; ctx.lineWidth = 1.4;
    marker(ctx, 'diamond', c1, rows[1], 5.5);
    // dimm
    ctx.strokeStyle = '#1414dc'; ctx.lineWidth = 1.8;
    ctx.beginPath(); ctx.moveTo(c1 - 10, rows[2]); ctx.lineTo(c1 + 10, rows[2]); ctx.stroke();
    ctx.fillStyle = '#ecec4c'; ctx.lineWidth = 1.6;
    marker(ctx, 'circle', c1, rows[2], 4);
    // gc2
    ctx.drawImage(G.gc2, c2 - G.gc2.width / 2, rows[0] - G.gc2.height / 2);
    // wfs2
    faintLine(c2, rows[1]);
    ctx.fillStyle = '#555566'; ctx.strokeStyle = '#333344'; ctx.lineWidth = 1;
    marker(ctx, 'tri', c2, rows[1], 4.5);
    ctx.fillStyle = '#000';
    ctx.fillText(legendNames[0], c1 + 19, rows[0]);
    ctx.fillText(legendNames[1], c1 + 19, rows[1]);
    ctx.fillText(legendNames[2], c1 + 19, rows[2]);
    ctx.fillText(legendNames[3], c2 + 18, rows[0]);
    ctx.fillText(legendNames[4], c2 + 18, rows[1]);
    ctx.restore();
  },
};

interface PanelCfg {
  ymin: number;
  ymax: number;
  yTicks: number[];
  yLabel: (v: number) => string;
  gridColor: (v: number) => string;
  topPad: number;
  xHeight: number;
  labelPad: number;
}

function buildOptions(c: PanelCfg): any {
  return {
    responsive: false,
    animation: false,
    events: [],
    layout: { padding: { top: c.topPad, right: 23, left: 0, bottom: 0 } },
    plugins: { legend: { display: false }, tooltip: { enabled: false } },
    scales: {
      x: {
        type: 'linear',
        min: xMin,
        max: xMax,
        afterBuildTicks: (s: any) => { s.ticks = hourTicks.map((v) => ({ value: v })); },
        afterFit: (s: any) => { s.height = c.xHeight; },
        grid: { display: false, drawTicks: false },
        border: { display: true, color: '#000', width: 1 },
        ticks: {
          autoSkip: false,
          maxRotation: 0,
          padding: c.labelPad,
          color: '#000',
          font: { family: FONT, size: 14 },
          callback: (v: number) => (v >= 13 ? '' : `${String(v).padStart(2, '0')}:00`),
        },
      },
      y: {
        type: 'linear',
        min: c.ymin,
        max: c.ymax,
        afterBuildTicks: (s: any) => { s.ticks = c.yTicks.map((v) => ({ value: v })); },
        afterFit: (s: any) => { s.width = 45; },
        grid: {
          drawTicks: false,
          lineWidth: 1,
          color: (ctx: any) => c.gridColor(ctx.tick ? ctx.tick.value : 0),
        },
        border: { display: true, color: '#000', width: 1 },
        ticks: {
          autoSkip: false,
          padding: 7,
          color: '#000',
          font: { family: FONT, size: 14 },
          callback: (v: number) => c.yLabel(v),
        },
      },
    },
  };
}

const topGrid = (v: number) => (isMult(v, 1) ? '#707070' : isMult(v, 0.5) ? '#a9a9a9' : '#e1e1e1');
// the connector is tan inside a dense cluster, and faint across gaps or big jumps
const gapSegment = (near: string, far: string) => ({
  borderColor: (s: any) =>
    s.p1.parsed.x - s.p0.parsed.x > 0.06 || Math.abs(s.p1.parsed.y - s.p0.parsed.y) > 0.45 ? far : near,
});

function topConfig(): any {
  const G = glyphs();
  return {
    type: 'scatter',
    data: {
      datasets: [
        {
          label: 'dimm', data: toXY(dimm), showLine: true, order: 0,
          borderColor: '#1414dc', borderWidth: 1.8,
          pointStyle: 'circle', pointRadius: 4, pointBorderWidth: 1.8,
          pointBorderColor: '#1414dc', pointBackgroundColor: '#ecec4c',
        },
        {
          label: 'wfs2', data: toXY(wfs2), showLine: true, order: 1,
          borderColor: 'rgba(190,185,200,0.6)', borderWidth: 0.8,
          pointStyle: 'triangle', rotation: 180, pointRadius: 4,
          pointBorderColor: '#333344', pointBackgroundColor: '#555566',
        },
        {
          label: 'wfs1', data: toXY(wfs1), showLine: true, order: 2,
          borderColor: 'rgba(185,180,200,0.5)', borderWidth: 0.8,
          segment: gapSegment('rgba(185,180,200,0.3)', 'rgba(185,180,205,0.6)'),
          pointStyle: 'rectRot', pointRadius: 5.6, pointBorderWidth: 1.6,
          pointBorderColor: '#ff3000', pointBackgroundColor: '#ffca10',
        },
        {
          label: 'gc2', data: toXY(gc2), showLine: true, order: 3,
          borderColor: 'rgba(160,190,190,0.5)', borderWidth: 0.8,
          pointStyle: G.gc2, pointRadius: 6,
        },
        {
          label: 'gc1', data: toXY(gc1), showLine: true, order: 4,
          borderColor: 'rgba(200,185,165,0.6)', borderWidth: 0.8,
          segment: gapSegment('rgba(214,190,150,0.9)', 'rgba(190,185,200,0.45)'),
          pointStyle: G.gc1, pointRadius: 6,
        },
      ],
    },
    options: buildOptions({
      ymin: 0.3, ymax: 3.85, yTicks: range(3, 38, 10),
      yLabel: (v) => (isMult(v, 0.5) ? (isMult(v, 1) ? String(Math.round(v)) : v.toFixed(1)) : ''),
      gridColor: topGrid, topPad: 40, xHeight: 26, labelPad: 9,
    }),
    plugins: [titlePlugin(titleDIQ, 25), innerTicks, legendPlugin],
  };
}

function midConfig(): any {
  return {
    type: 'scatter',
    data: {
      datasets: [
        {
          label: 'wfs', data: toXY(wfsDiff), showLine: true, order: 0,
          borderColor: 'rgba(175,175,175,0.8)', borderWidth: 1,
          pointStyle: 'crossRot', pointRadius: 5.5, pointBorderWidth: 3,
          pointBorderColor: '#ff0000', pointBackgroundColor: 'rgba(0,0,0,0)',
        },
        {
          label: 'guider', data: toXY(guider), showLine: true, order: 1,
          borderColor: 'rgba(175,175,175,0.8)', borderWidth: 1,
          pointStyle: 'circle', pointRadius: 6, pointBorderWidth: 1.6,
          pointBorderColor: '#d6c2df', pointBackgroundColor: '#800080',
        },
      ],
    },
    options: buildOptions({
      ymin: -1.35, ymax: 2.5, yTicks: range(-13, 25, 10),
      yLabel: (v) => (isMult(v, 1) ? String(Math.round(v)) : ''),
      gridColor: topGrid, topPad: 31, xHeight: 25, labelPad: 4,
    }),
    plugins: [titlePlugin(titleGuider, 16), innerTicks],
  };
}

function botConfig(): any {
  return {
    type: 'scatter',
    data: {
      datasets: [
        {
          label: 'bliq', data: toXY(bliq), showLine: false, order: 0,
          pointStyle: 'circle', pointRadius: 5.2, pointBorderWidth: 1.4,
          pointBorderColor: '#c6c6e4', pointBackgroundColor: '#0b0b7a',
        },
        {
          label: 'high', data: [{ x: bandStart, y: bandHigh }, { x: bandEnd, y: bandHigh }],
          showLine: true, order: 1, pointRadius: 0,
          borderColor: '#b52020', borderWidth: 1.2, borderDash: [4, 2.5],
          fill: '+1', backgroundColor: 'rgba(255,0,0,0.065)',
        },
        {
          label: 'low', data: [{ x: bandStart, y: bandLow }, { x: bandEnd, y: bandLow }],
          showLine: true, order: 2, pointRadius: 0,
          borderColor: '#b52020', borderWidth: 1.2, borderDash: [4, 2.5], fill: false,
        },
      ],
    },
    options: buildOptions({
      ymin: -0.19, ymax: 1.95, yTicks: range(-3, 39, 20),
      yLabel: (v) => (isMult(v, 0.5) ? (Math.abs(v) < 1e-9 ? '0' : v.toFixed(1)) : ''),
      gridColor: (v) => (isMult(v, 0.5) ? '#707070' : '#e6e6e6'),
      topPad: 32, xHeight: 30, labelPad: 6,
    }),
    plugins: [titlePlugin(titleBliq, 17), innerTicks],
  };
}

function Panel({ top, height, build }: { top: number; height: number; build: () => any }) {
  const ref = useRef<HTMLCanvasElement>(null);
  useEffect(() => {
    const chart = new Chart(ref.current as HTMLCanvasElement, build());
    return () => chart.destroy();
  }, []);
  return (
    <canvas
      ref={ref}
      width={1400}
      height={height}
      style={{ position: 'absolute', left: 0, top, width: 1400, height, display: 'block' }}
    />
  );
}

export default function App() {
  return (
    <div style={{ position: 'fixed', left: 0, top: 0, width: 1400, height: 700, background: '#fff' }}>
      <Panel top={0} height={365} build={topConfig} />
      <Panel top={365} height={165} build={midConfig} />
      <Panel top={530} height={170} build={botConfig} />
    </div>
  );
}
